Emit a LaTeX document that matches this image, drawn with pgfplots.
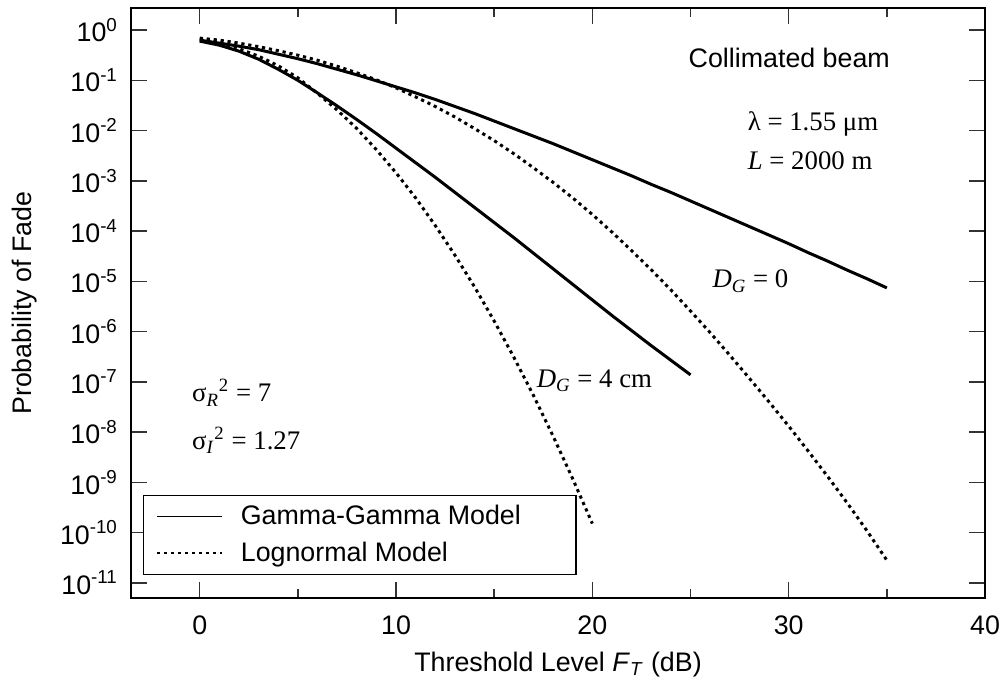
\documentclass[border=0pt]{standalone}
\usepackage{fontspec}
\setmainfont{Liberation Sans}
\newfontfamily\tms{Liberation Serif}
\usepackage{pgfplots}
\usepackage{pgfplotstable}
\pgfplotsset{compat=1.18}
\newcommand\fs{\fontsize{13.4}{16}\selectfont}

% log10 of the fade probability
\pgfplotstableread{
F  L
0  -0.20
1  -0.26
2  -0.32
3  -0.39
4  -0.48
5  -0.57
6  -0.67
7  -0.78
8  -0.89
9  -1.01
10 -1.13
11 -1.25
12 -1.38
13 -1.52
14 -1.66
15 -1.81
16 -1.96
17 -2.11
18 -2.26
19 -2.42
20 -2.58
21 -2.74
22 -2.90
23 -3.07
24 -3.23
25 -3.40
26 -3.57
27 -3.74
28 -3.91
29 -4.08
30 -4.25
31 -4.43
32 -4.60
33 -4.78
34 -4.95
35 -5.13
}\ggzero
\pgfplotstableread{
F  L
0  -0.16
1  -0.20
2  -0.26
3  -0.33
4  -0.41
5  -0.50
6  -0.60
7  -0.72
8  -0.85
9  -0.99
10 -1.15
11 -1.33
12 -1.52
13 -1.73
14 -1.96
15 -2.20
16 -2.46
17 -2.74
18 -3.03
19 -3.34
20 -3.67
21 -4.02
22 -4.39
23 -4.77
24 -5.17
25 -5.59
26 -6.02
27 -6.47
28 -6.93
29 -7.40
30 -7.88
31 -8.38
32 -8.89
33 -9.42
34 -9.97
35 -10.55
}\lnzero
\pgfplotstableread{
F  L
0  -0.22
1  -0.30
2  -0.42
3  -0.58
4  -0.78
5  -1.00
6  -1.25
7  -1.51
8  -1.78
9  -2.06
10 -2.35
11 -2.64
12 -2.93
13 -3.23
14 -3.53
15 -3.83
16 -4.13
17 -4.44
18 -4.75
19 -5.06
20 -5.37
21 -5.68
22 -5.98
23 -6.28
24 -6.57
25 -6.86
}\ggfour
\pgfplotstableread{
F  L
0  -0.18
1  -0.25
2  -0.37
3  -0.52
4  -0.71
5  -0.95
6  -1.26
7  -1.59
8  -1.96
9  -2.38
10 -2.84
11 -3.34
12 -3.89
13 -4.48
14 -5.11
15 -5.79
16 -6.51
17 -7.27
18 -8.08
19 -8.93
20 -9.82
}\lnfour

\begin{document}
\begin{tikzpicture}
\begin{axis}[
  scale only axis, width=427pt, height=295pt,
  ymode=log,
  xmin=-3.5, xmax=40, ymin=5e-12, ymax=2.75,
  xtick={0,10,20,30,40}, minor x tick num=1,
  ytick={1e-11,1e-10,1e-9,1e-8,1e-7,1e-6,1e-5,1e-4,1e-3,1e-2,1e-1,1},
  yticklabels={10\textsuperscript{-11},10\textsuperscript{-10},10\textsuperscript{-9},
    10\textsuperscript{-8},10\textsuperscript{-7},10\textsuperscript{-6},10\textsuperscript{-5},
    10\textsuperscript{-4},10\textsuperscript{-3},10\textsuperscript{-2},10\textsuperscript{-1},
    10\textsuperscript{0}},
  yminorticks=false,
  /pgf/number format/assume math mode=true,
  major tick length=8pt, minor tick length=4.5pt,
  tick style={black!80, line width=0.7pt},
  axis line style={line width=0.9pt},
  tick label style={font=\fs},
  xticklabel style={yshift=-5.5pt},
  yticklabel style={xshift=-3pt},
  xlabel={Threshold Level \textit{F}\textsubscript{\textit{T}} (dB)},
  ylabel={Probability of Fade},
  every axis x label/.style={at={(axis description cs:0.5,-0.112)}, anchor=center, font=\fs},
  every axis y label/.style={at={(axis description cs:-0.125,0.5)}, rotate=90, anchor=center, font=\fs},
  legend style={at={(rel axis cs:0.014,0.175)}, anchor=north west, draw=black,
    line width=0.7pt, font=\fs, inner xsep=6.5pt, inner ysep=3pt, row sep=3pt,
    column sep=7pt},
  legend cell align=left,
  legend image code/.code={\draw[#1, line width=0.6pt] (0pt,0pt) -- (32.5pt,0pt);},
  clip=false,
]
\addplot[black, line width=1.5pt] table[x=F, y expr={10^(\thisrow{L})}] {\ggzero};
\addlegendentry{Gamma-Gamma Model\hspace*{19pt}}
\addplot[black, line width=1.5pt, dash pattern=on 1.6pt off 1.9pt] table[x=F, y expr={10^(\thisrow{L})}] {\lnzero};
\addlegendentry{Lognormal Model}
\addplot[black, line width=1.5pt, forget plot] table[x=F, y expr={10^(\thisrow{L})}] {\ggfour};
\addplot[black, line width=1.5pt, dash pattern=on 1.6pt off 1.9pt, forget plot] table[x=F, y expr={10^(\thisrow{L})}] {\lnfour};

\node[font=\fs, anchor=center] at (axis cs:30.03,0.277) {Collimated beam};
\node[font=\fs\tms, anchor=base west, inner sep=0pt] at (axis cs:27.9,1.02e-2) {λ = 1.55 μm};
\node[font=\fs\tms, anchor=base west, inner sep=0pt] at (axis cs:27.9,1.66e-3) {\textit{L} = 2000 m};
\node[font=\fs\tms, anchor=base west, inner sep=0pt] at (axis cs:26.1,7.4e-6) {\textit{D}\textsubscript{\textit{G}} = 0};
\node[font=\fs\tms, anchor=base west, inner sep=0pt] at (axis cs:17.15,7.9e-8) {\textit{D}\textsubscript{\textit{G}} = 4 cm};
\node[font=\fs\tms, anchor=base west, inner sep=0pt] at (axis cs:-0.41,4.0e-8) {σ\textsubscript{\textit{R}}\textsuperscript{2} = 7};
\node[font=\fs\tms, anchor=base west, inner sep=0pt] at (axis cs:-0.41,4.5e-9) {σ\textsubscript{\textit{I}}\textsuperscript{2} = 1.27};

\path (rel axis cs:0,0.5) ++(-65.5pt,0pt) coordinate (bl);
\path (rel axis cs:0,1) ++(0pt,4pt) coordinate (bt);
\path (rel axis cs:1,0) ++(11.5pt,0pt) coordinate (br);
\path (rel axis cs:0,0) ++(0pt,-44pt) coordinate (bb);
\path (bl) (bt) (br) (bb);
\end{axis}
\end{tikzpicture}
\end{document}
